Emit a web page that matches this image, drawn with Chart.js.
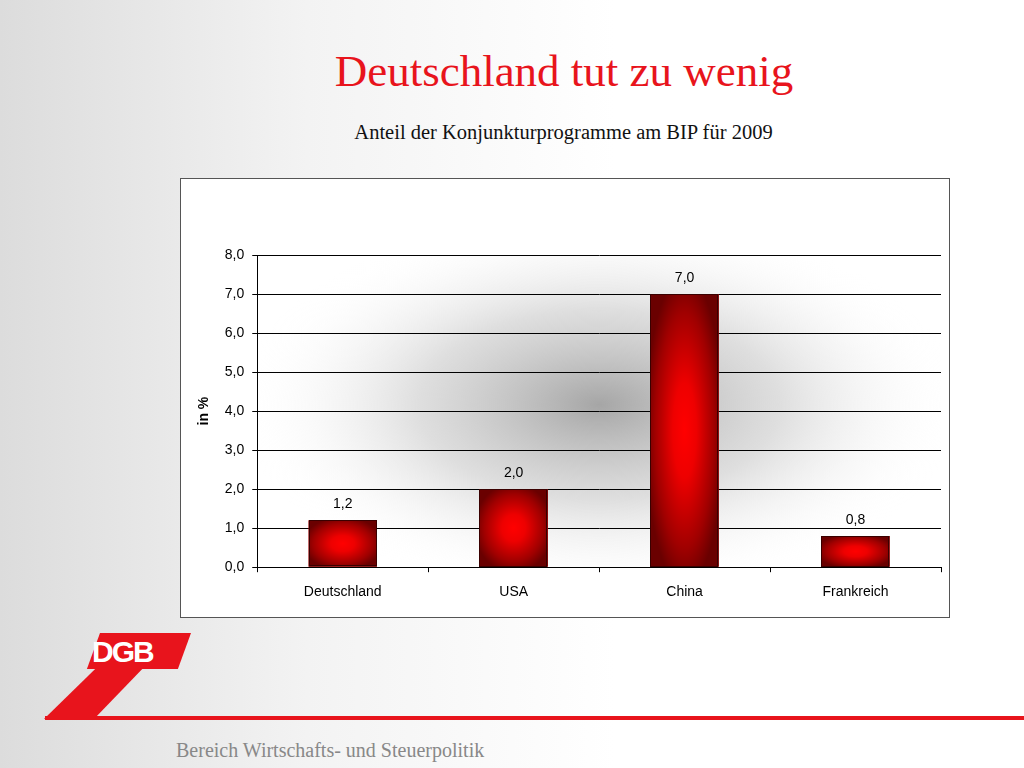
<!DOCTYPE html>
<html><head><meta charset="utf-8">
<script src="https://cdn.jsdelivr.net/npm/chart.js@4/dist/chart.umd.min.js"></script>
<style>
html,body{margin:0;padding:0;width:1024px;height:768px;overflow:hidden;}
body{background:linear-gradient(90deg,#dcdcdc 0%,#f3f3f3 30%,#ffffff 60%,#ffffff 100%);position:relative;font-family:"Liberation Serif",serif;}
#title{position:absolute;top:45px;left:0;width:1128px;text-align:center;color:#e8141c;font-size:45px;}
#sub{position:absolute;top:121px;left:0;width:1127px;text-align:center;color:#111;font-size:20.5px;}
#box{position:absolute;left:180px;top:178px;width:768px;height:438px;background:#fff;border:1px solid #555;}
#logo{position:absolute;left:44px;top:633px;width:178px;height:86px;}
#line{position:absolute;left:45px;top:716px;width:979px;height:4px;background:#e8141c;}
#foot{position:absolute;left:176px;top:739px;color:#888;font-size:20px;}
</style></head><body>
<div id="title">Deutschland tut zu wenig</div>
<div id="sub">Anteil der Konjunkturprogramme am BIP für 2009</div>
<div id="box"><canvas id="c" width="768" height="438"></canvas></div>
<svg id="logo" viewBox="0 0 178 86"><polygon points="88,0 133,0 50,86 0,86" fill="#e8141c"/><rect x="42" y="0" width="91" height="36" fill="#e8141c" transform="skewX(-20) translate(14,0)"/><text x="48" y="29" fill="#fff" font-family="Liberation Sans" font-weight="bold" font-size="30" letter-spacing="-2">DGB</text></svg>
<div id="line"></div>
<div id="foot">Bereich Wirtschafts- und Steuerpolitik</div>
<script>
const categories=["Deutschland","USA","China","Frankreich"];
const values=[1.2,2.0,7.0,0.8];
const yTicks=[0,1,2,3,4,5,6,7,8];
const fmt=v=>v.toFixed(1).replace('.',',');
const bgPlugin={id:'bg',beforeDraw(ch){const a=ch.chartArea,c=ch.ctx;c.save();
 const cx=(a.left+a.right)/2,cy=a.top+(a.bottom-a.top)*0.48;
 c.beginPath();c.rect(a.left,a.top,a.right-a.left,a.bottom-a.top);c.clip();
 c.translate(cx,cy);c.scale(1.9,1);
 const g=c.createRadialGradient(0,0,0,0,0,(a.right-a.left)/3.6);
 g.addColorStop(0,'rgba(150,150,150,0.85)');g.addColorStop(0.5,'rgba(190,190,190,0.5)');g.addColorStop(1,'rgba(255,255,255,0)');
 c.fillStyle=g;c.fillRect(-400,-200,800,400);c.restore();},
 afterDatasetsDraw(ch){const c=ch.ctx;ch.getDatasetMeta(0).data.forEach(el=>{
  const l=el.x-el.width/2,t=el.y,w=el.width,h=el.base-el.y;
  c.save();c.beginPath();c.rect(l,t,w,h);c.clip();
  c.translate(el.x,t+h/2);c.scale(w/2,h/2);
  const g=c.createRadialGradient(0,0,0,0,0,1.15);
  g.addColorStop(0,'#ff0000');g.addColorStop(0.3,'#ee0000');g.addColorStop(0.75,'#a00000');g.addColorStop(1,'#6a0000');
  c.fillStyle=g;c.fillRect(-1,-1,2,2);c.restore();
  c.save();c.strokeStyle='#3a0000';c.lineWidth=1;c.strokeRect(Math.round(l)+0.5,Math.round(t)+0.5,Math.round(w)-1,Math.round(h)-1);c.restore();});
  c.save();c.font='14px "Liberation Sans"';c.fillStyle='#000';c.textAlign='center';
  ch.getDatasetMeta(0).data.forEach((b,i)=>{c.fillText(fmt(values[i]),b.x,b.y-12);});c.restore();}};
new Chart(document.getElementById('c'),{type:'bar',
 data:{labels:categories,datasets:[{data:values,backgroundColor:'#a00000',borderWidth:0,categoryPercentage:0.4,barPercentage:1}]},
 plugins:[bgPlugin],
 options:{responsive:false,animation:false,devicePixelRatio:1,
  layout:{padding:{top:76,right:8,left:11,bottom:4}},
  plugins:{legend:{display:false},tooltip:{enabled:false}},
  scales:{y:{min:0,max:8,afterBuildTicks(s){s.ticks=yTicks.map(v=>({value:v}));},
    ticks:{callback:v=>fmt(v),color:'#000',font:{family:'Liberation Sans',size:14},padding:8},
    grid:{color:'#000',drawTicks:true,tickLength:5},border:{color:'#000'},
    title:{display:true,text:'in %',color:'#000',font:{family:'Liberation Sans',size:14,weight:'bold'}}},
   x:{ticks:{color:'#000',font:{family:'Liberation Sans',size:14},padding:12},
    grid:{display:true,drawOnChartArea:false,offset:true,color:'#000',tickLength:5},border:{color:'#000'}}}}});
</script></body></html>
